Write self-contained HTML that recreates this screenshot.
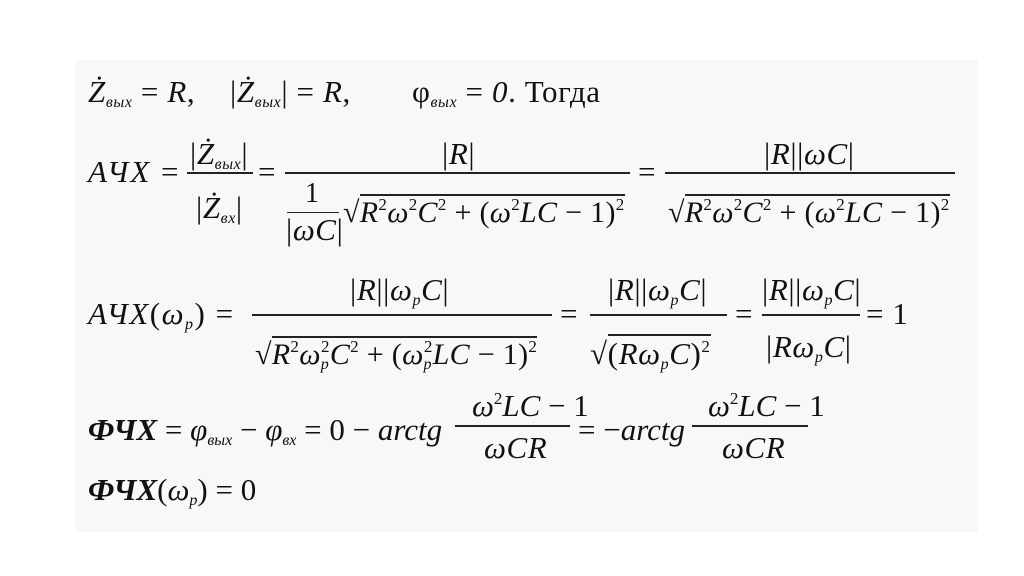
<!DOCTYPE html>
<html><head><meta charset="utf-8"><style>
html,body{margin:0;padding:0;background:#fff;}
#c{position:relative;width:1024px;height:576px;overflow:hidden;background:#fff;font-family:"Liberation Serif",serif;color:#111;}
#box{position:absolute;left:75px;top:60px;width:903px;height:472px;background:#f8f8f8;}
.t{position:absolute;line-height:1;font-size:31px;letter-spacing:0.6px;white-space:nowrap;}
i{font-style:italic;}
sub{font-size:16px;vertical-align:-5px;font-style:italic;}
sup{font-size:17px;vertical-align:12px;}
.bar{position:absolute;height:2px;background:#222;}
.b{font-weight:bold;font-style:italic;}
.s{font-size:30px;letter-spacing:0.3px;}
</style></head><body><div id="c">
<div id="box"></div>

<!-- line 1 -->
<div class="t" style="left:88px;top:76px"><i>Ż</i><sub>вых</sub> = <i>R</i>,</div>
<div class="t" style="left:230px;top:76px">|<i>Ż</i><sub>вых</sub>| = <i>R</i>,</div>
<div class="t" style="left:412px;top:76px">φ<sub>вых</sub> = <i>0</i>. Тогда</div>

<!-- line 2 -->
<div class="t" style="left:88px;top:156px;letter-spacing:2px"><i>АЧХ</i> =</div>
<div class="t" style="left:190px;top:138px">|<i>Ż</i><sub>вых</sub>|</div>
<div class="bar" style="left:187px;top:172px;width:66px"></div>
<div class="t" style="left:196px;top:192px">|<i>Ż</i><sub>вх</sub>|</div>
<div class="t" style="left:258px;top:156px">=</div>
<div class="t" style="left:442px;top:138px">|<i>R</i>|</div>
<div class="bar" style="left:285px;top:172px;width:345px"></div>
<div class="t" style="left:305px;top:180px;font-size:28px">1</div>
<div class="bar" style="left:287px;top:212px;width:52px;height:1px"></div>
<div class="t" style="left:286px;top:214px">|<i>ωC</i>|</div>
<div class="t s" style="left:343px;top:196px">√<span style="border-top:2px solid #222"><i>R</i><sup>2</sup><i>ω</i><sup>2</sup><i>C</i><sup>2</sup> + (<i>ω</i><sup>2</sup><i>LC</i> − 1)<sup>2</sup></span></div>
<div class="t" style="left:638px;top:156px">=</div>
<div class="t" style="left:764px;top:138px">|<i>R</i>||<i>ωC</i>|</div>
<div class="bar" style="left:665px;top:172px;width:290px"></div>
<div class="t s" style="left:668px;top:196px">√<span style="border-top:2px solid #222"><i>R</i><sup>2</sup><i>ω</i><sup>2</sup><i>C</i><sup>2</sup> + (<i>ω</i><sup>2</sup><i>LC</i> − 1)<sup>2</sup></span></div>

<!-- line 3 -->
<div class="t" style="left:88px;top:298px;letter-spacing:1.5px"><i>АЧХ</i>(<i>ω</i><sub>p</sub>) =</div>
<div class="t" style="left:350px;top:274px">|<i>R</i>||<i>ω</i><sub>p</sub><i>C</i>|</div>
<div class="bar" style="left:252px;top:314px;width:300px"></div>
<div class="t s" style="left:255px;top:338px">√<span style="border-top:2px solid #222"><i>R</i><sup>2</sup><i>ω</i><sub>p</sub><sup style="margin-left:-8px">2</sup><i>C</i><sup>2</sup> + (<i>ω</i><sub>p</sub><sup style="margin-left:-8px">2</sup><i>LC</i> − 1)<sup>2</sup></span></div>
<div class="t" style="left:560px;top:298px">=</div>
<div class="t" style="left:608px;top:274px">|<i>R</i>||<i>ω</i><sub>p</sub><i>C</i>|</div>
<div class="bar" style="left:590px;top:314px;width:137px"></div>
<div class="t" style="left:590px;top:338px">√<span style="border-top:2px solid #222">(<i>Rω</i><sub>p</sub><i>C</i>)<sup>2</sup></span></div>
<div class="t" style="left:735px;top:298px">=</div>
<div class="t" style="left:762px;top:274px">|<i>R</i>||<i>ω</i><sub>p</sub><i>C</i>|</div>
<div class="bar" style="left:762px;top:314px;width:98px"></div>
<div class="t" style="left:766px;top:331px">|<i>Rω</i><sub>p</sub><i>C</i>|</div>
<div class="t" style="left:866px;top:298px">= 1</div>

<!-- line 4 -->
<div class="t" style="left:88px;top:414px;letter-spacing:0"><span class="b">ФЧХ</span> = <i>φ</i><sub>вых</sub> − <i>φ</i><sub>вх</sub> = 0 − <i>arctg</i></div>
<div class="t" style="left:472px;top:390px;letter-spacing:0"><i>ω</i><sup>2</sup><i>LC</i> − 1</div>
<div class="bar" style="left:455px;top:425px;width:115px"></div>
<div class="t" style="left:484px;top:432px"><i>ωCR</i></div>
<div class="t" style="left:578px;top:414px;letter-spacing:0">= −<i>arctg</i></div>
<div class="t" style="left:708px;top:390px;letter-spacing:0"><i>ω</i><sup>2</sup><i>LC</i> − 1</div>
<div class="bar" style="left:692px;top:425px;width:116px"></div>
<div class="t" style="left:722px;top:432px"><i>ωCR</i></div>

<!-- line 5 -->
<div class="t" style="left:88px;top:474px;letter-spacing:0"><span class="b">ФЧХ</span>(<i>ω</i><sub>p</sub>) = 0</div>
</div></body></html>
